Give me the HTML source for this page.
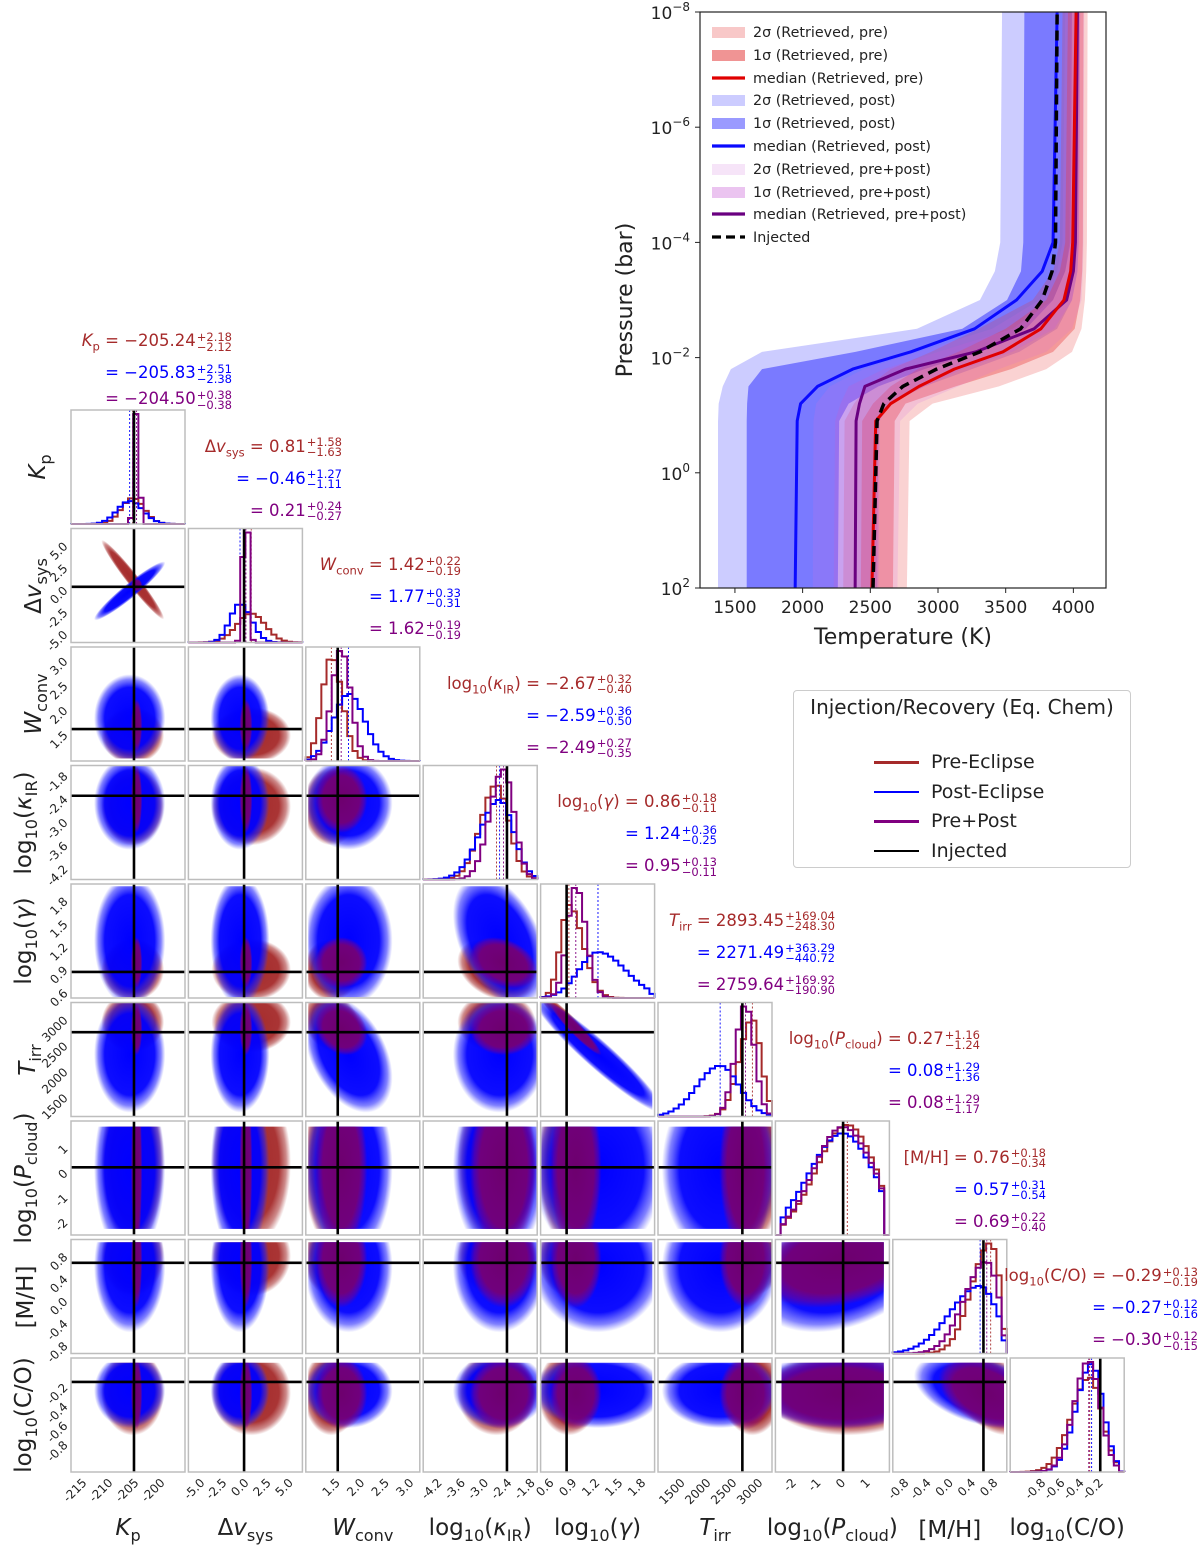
<!DOCTYPE html>
<html><head><meta charset="utf-8">
<style>
body{margin:0;background:#fff}
#root{position:relative;width:1200px;height:1553px;overflow:hidden;font-family:"DejaVu Sans","Liberation Sans",sans-serif;color:#222}
.ann{position:absolute;white-space:nowrap;font-size:16.5px;line-height:24px}
.pm{display:inline-block;vertical-align:middle;font-size:11.5px;line-height:10px;text-align:left;margin-left:1px}
.pm span{display:block}
.axl{position:absolute;white-space:nowrap;transform:translate(-50%,-50%);font-size:23px}
.axl sub,.ann sub{font-size:0.7em}
.leg2{position:absolute;left:793px;top:690px;width:336px;height:176px;border:1px solid #ccc;border-radius:4px;background:#fff}
</style></head>
<body>
<div id="root">
<svg id="svg" width="1200" height="1553" style="position:absolute;left:0;top:0" xmlns="http://www.w3.org/2000/svg">
<defs>
<radialGradient id="gPre"><stop offset="0" stop-color="#a52a2a" stop-opacity="1"/><stop offset="0.7" stop-color="#a52a2a" stop-opacity="0.95"/><stop offset="0.88" stop-color="#a52a2a" stop-opacity="0.55"/><stop offset="1" stop-color="#a52a2a" stop-opacity="0"/></radialGradient>
<radialGradient id="gPost"><stop offset="0" stop-color="#0000ff" stop-opacity="1"/><stop offset="0.7" stop-color="#0000ff" stop-opacity="0.95"/><stop offset="0.88" stop-color="#1a1aff" stop-opacity="0.55"/><stop offset="1" stop-color="#3333ff" stop-opacity="0"/></radialGradient>
<radialGradient id="gBoth"><stop offset="0" stop-color="#6e006e" stop-opacity="1"/><stop offset="0.7" stop-color="#760076" stop-opacity="0.95"/><stop offset="0.88" stop-color="#800080" stop-opacity="0.5"/><stop offset="1" stop-color="#800080" stop-opacity="0"/></radialGradient>
</defs>
</svg>
</div>
<script>
// ---------- Corner plot data ----------
const paramNames=['kp','dvsys','wconv','log-kappa-ir','log-gamma','t-irr','log-p-cloud','metallicity','log-c-o'];
const axisLabels=['<i>K</i><sub>p</sub>','Δ<i>v</i><sub>sys</sub>','<i>W</i><sub>conv</sub>','log<sub>10</sub>(<i>κ</i><sub>IR</sub>)','log<sub>10</sub>(<i>γ</i>)','<i>T</i><sub>irr</sub>','log<sub>10</sub>(<i>P</i><sub>cloud</sub>)','[M/H]','log<sub>10</sub>(C/O)'];
const rangeLo=[-217.1,-6.3,0.9,-4.56,0.49,1072,-2.65,-1.0,-1.12];
const rangeHi=[-195.2,6.6,3.22,-1.62,1.98,3272,1.98,1.05,0.07];
const boundLo=[-1e9,-1e9,0.95,-1e9,0.5,-1e9,-2.4,-1e9,-1.1];
const boundHi=[1e9,1e9,1e9,1e9,1.95,3300,1.75,1.0,0.02];
const injected=[-205,0,1.55,-2.4,0.83,2700,0.1,0.63,-0.18];
const medPre=[-205.24,0.81,1.42,-2.67,0.86,2893.45,0.27,0.76,-0.29];
const upPre=[2.18,1.58,0.22,0.32,0.18,169.04,1.16,0.18,0.13];
const dnPre=[2.12,1.63,0.19,0.40,0.11,248.30,1.24,0.34,0.19];
const medPost=[-205.83,-0.46,1.77,-2.59,1.24,2271.49,0.08,0.57,-0.27];
const upPost=[2.51,1.27,0.33,0.36,0.36,363.29,1.29,0.31,0.12];
const dnPost=[2.38,1.11,0.31,0.50,0.25,440.72,1.36,0.54,0.16];
const medBoth=[-204.50,0.21,1.62,-2.49,0.95,2759.64,0.08,0.69,-0.30];
const upBoth=[0.38,0.24,0.19,0.27,0.13,169.92,1.29,0.22,0.12];
const dnBoth=[0.38,0.27,0.19,0.35,0.11,190.90,1.17,0.40,0.15];
const corrI=[0,4,3,2,7,6];
const corrJ=[1,5,4,5,8,7];
const corrPre=[-0.97,-0.95,-0.3,-0.2,-0.4,0.3];
const corrPost=[0.95,-0.95,-0.4,-0.4,-0.4,0.3];
const corrBoth=[0.0,-0.95,-0.3,-0.2,-0.4,0.3];
const tickVals=[[-215,-210,-205,-200],[-5,-2.5,0,2.5,5],[1.5,2,2.5,3],[-4.2,-3.6,-3.0,-2.4,-1.8],[0.6,0.9,1.2,1.5,1.8],[1500,2000,2500,3000],[-2,-1,0,1],[-0.8,-0.4,0,0.4,0.8],[-0.8,-0.6,-0.4,-0.2]];
const tickText=[['-215','-210','-205','-200'],['-5.0','-2.5','0.0','2.5','5.0'],['1.5','2.0','2.5','3.0'],['-4.2','-3.6','-3.0','-2.4','-1.8'],['0.6','0.9','1.2','1.5','1.8'],['1500','2000','2500','3000'],['-2','-1','0','1'],['-0.8','-0.4','0.0','0.4','0.8'],['-0.8','-0.6','-0.4','-0.2']];

// ---------- T-P profile data ----------
const logPGrid=[2,-0.9,-1.2,-1.5,-1.8,-2.1,-2.5,-3.0,-3.5,-4.0,-8];
const tInjected=[2520,2550,2600,2740,2990,3310,3610,3770,3843,3868,3880];
const tMedPre=[2512,2540,2650,2860,3120,3480,3760,3930,3980,3995,4020];
const tMedPost=[1945,1960,1985,2110,2370,2800,3270,3580,3770,3850,3880];
const tMedBoth=[2388,2395,2420,2460,2760,3280,3710,3950,4000,4015,4030];
const tPost2Lo=[1375,1375,1380,1410,1470,1700,2845,3310,3420,3460,3473];
const tPost2Hi=[2550,2560,2650,2900,3250,3600,3880,3990,4030,4040,4050];
const tPost1Lo=[1587,1587,1590,1600,1700,2390,3180,3510,3613,3630,3638];
const tPost1Hi=[2260,2270,2340,2560,2900,3300,3650,3850,3940,3980,3990];
const tPre2Lo=[2300,2310,2380,2480,2650,2950,3300,3700,3850,3900,3920];
const tPre2Hi=[2770,2790,2960,3450,3800,3990,4060,4085,4095,4100,4105];
const tPre1Lo=[2430,2440,2520,2650,2850,3150,3500,3800,3900,3940,3960];
const tPre1Hi=[2667,2680,2760,3130,3540,3850,4010,4050,4065,4070,4075];
const tBoth2Lo=[2075,2080,2100,2200,2450,2850,3400,3750,3880,3920,3940];
const tBoth2Hi=[2700,2720,2850,3150,3450,3800,3990,4060,4070,4075,4080];
const tBoth1Lo=[2230,2240,2280,2340,2600,3000,3550,3850,3940,3970,3980];
const tBoth1Hi=[2560,2570,2640,2900,3180,3550,3860,3990,4030,4040,4050];
const tpXTicks=[1500,2000,2500,3000,3500,4000];
const tpYTicks=[-8,-6,-4,-2,0,2];
const tpYTickText=['−8','−6','−4','−2','0','2'];

const NS='http://www.w3.org/2000/svg';
const svg=document.getElementById('svg');
const root=document.getElementById('root');
function mk(tag,attrs,parent){const e=document.createElementNS(NS,tag);for(const k in attrs)e.setAttribute(k,attrs[k]);(parent||svg).appendChild(e);return e;}

const N=9, S=114;
function colX(i){return 71+i*117.4;}
function rowY(j){return 410+j*118.5;}
function px(k,v){return colX(k)+(v-rangeLo[k])/(rangeHi[k]-rangeLo[k])*S;}
function py(row,k,v){return rowY(row)+S-(v-rangeLo[k])/(rangeHi[k]-rangeLo[k])*S;}

const series=[
 {key:'pre',med:medPre,up:upPre,dn:dnPre,corr:corrPre,col:'#a52a2a',grad:'url(#gPre)'},
 {key:'post',med:medPost,up:upPost,dn:dnPost,corr:corrPost,col:'#0000ff',grad:'url(#gPost)'},
 {key:'both',med:medBoth,up:upBoth,dn:dnBoth,corr:corrBoth,col:'#800080',grad:'url(#gBoth)'}
];

function erf(x){const s=x<0?-1:1;x=Math.abs(x);const t=1/(1+0.3275911*x);const y=1-(((((1.061405429*t-1.453152027)*t)+1.421413741)*t-0.284496736)*t+0.254829592)*t*Math.exp(-x*x);return s*y;}
function Phi(z){return 0.5*(1+erf(z/Math.SQRT2));}
function splitCdf(x,m,u,d){const wd=2*d/(u+d),wu=2*u/(u+d);if(x<m)return wd*Phi((x-m)/d);return wd*0.5+wu*(Phi((x-m)/u)-0.5);}

// ---------- corner panels ----------
const cornerG=mk('g',{});


const defs=svg.querySelector('defs');

for(let r=0;r<N;r++){
 for(let c=0;c<=r;c++){
  const x0=colX(c),y0=rowY(r);
  const g=mk('g',{},cornerG);
  if(r===c){
   
   
   const nb=22, lo=rangeLo[c], hi=rangeHi[c], bw=(hi-lo)/nb;
   const dens=[];let mx=0;
   series.forEach(s=>{
     const m=s.med[c],u=s.up[c],d=s.dn[c];
     const bl=Math.max(boundLo[c],lo-1e6),bh=Math.min(boundHi[c],hi+1e6);
     const norm=splitCdf(bh,m,u,d)-splitCdf(bl,m,u,d);
     const arr=[];
     for(let b=0;b<nb;b++){
       let a=Math.max(lo+b*bw,boundLo[c]),e=Math.min(lo+(b+1)*bw,boundHi[c]);
       let v=e>a?(splitCdf(e,m,u,d)-splitCdf(a,m,u,d))/norm/bw:0;
       arr.push(v);mx=Math.max(mx,v);
     }
     dens.push(arr);
   });
   series.forEach((s,si)=>{
     let p='';
     for(let b=0;b<nb;b++){
       const xa=px(c,lo+b*bw),xb=px(c,lo+(b+1)*bw);
       const yv=y0+S-dens[si][b]/mx*(S-4);
       p+=(b===0?'M'+xa+','+(y0+S)+'L'+xa+','+yv:'L'+xa+','+yv)+'L'+xb+','+yv;
     }
     p+='L'+px(c,hi)+','+(y0+S);
     const h=mk('path',{d:p,fill:'none',stroke:s.col,'stroke-width':2},g);
     
     
     const ml=mk('line',{x1:px(c,s.med[c]),x2:px(c,s.med[c]),y1:y0,y2:y0+S,stroke:s.col,'stroke-width':0.9,'stroke-dasharray':'2,2'},g);
     
     
   });
   const il=mk('line',{x1:px(c,injected[c]),x2:px(c,injected[c]),y1:y0,y2:y0+S,stroke:'#000','stroke-width':2.6},g);
   
   
  } else {
   
   
   const cid='clip'+r+'_'+c;
   const cp=mk('clipPath',{id:cid},defs);
   const bx1=Math.max(x0,px(c,boundLo[c])),bx2=Math.min(x0+S,px(c,boundHi[c]));
   const by1=Math.max(y0,py(r,r,boundHi[r])),by2=Math.min(y0+S,py(r,r,boundLo[r]));
   mk('rect',{x:bx1,y:by1,width:bx2-bx1,height:by2-by1},cp);
   const cg=mk('g',{'clip-path':'url(#'+cid+')'},g);
   series.forEach(s=>{
     let rho=0;
     for(let q=0;q<corrI.length;q++){if(corrI[q]===c&&corrJ[q]===r)rho=s.corr[q];}
     const sx=(s.up[c]+s.dn[c])/2*S/(rangeHi[c]-rangeLo[c]);
     const sy=(s.up[r]+s.dn[r])/2*S/(rangeHi[r]-rangeLo[r]);
     const a=sx*sx,cc=sy*sy,b=-rho*sx*sy;
     const tr=(a+cc)/2,dd=Math.sqrt(((a-cc)/2)**2+b*b);
     const l1=tr+dd,l2=Math.max(tr-dd,0.5);
     const th=0.5*Math.atan2(2*b,a-cc)*180/Math.PI;
     const k=2.8;
     const cx=px(c,s.med[c]),cy=py(r,r,s.med[r]);
     const e=mk('ellipse',{cx:cx,cy:cy,rx:k*Math.sqrt(l1),ry:k*Math.sqrt(l2),fill:s.grad,transform:'rotate('+th+' '+cx+' '+cy+')'},cg);
     
     
   });
   const vl=mk('line',{x1:px(c,injected[c]),x2:px(c,injected[c]),y1:y0,y2:y0+S,stroke:'#000','stroke-width':2.6},g);
   
   
   const hl=mk('line',{x1:x0,x2:x0+S,y1:py(r,r,injected[r]),y2:py(r,r,injected[r]),stroke:'#000','stroke-width':2.6},g);
   
   
  }
  const fr=mk('rect',{x:x0,y:y0,width:S,height:S,fill:'none',stroke:'#bdbdbd','stroke-width':1.5},g);
  
  
 }
}
// bottom tick labels
for(let c=0;c<N;c++){
 tickVals[c].forEach((v,i)=>{
   const x=px(c,v)+3,y=rowY(8)+S+9;
   const t=mk('text',{x:x,y:y,'font-size':12,'text-anchor':'end',fill:'#222',transform:'rotate(-45 '+x+' '+y+')','dominant-baseline':'middle'},cornerG);
   t.textContent=tickText[c][i];
   
   
 });
}
// left tick labels
for(let r=1;r<N;r++){
 tickVals[r].forEach((v,i)=>{
   const x=colX(0)-5,y=py(r,r,v)+2;
   const t=mk('text',{x:x,y:y,'font-size':12,'text-anchor':'end',fill:'#222',transform:'rotate(-45 '+x+' '+y+')','dominant-baseline':'middle'},cornerG);
   t.textContent=tickText[r][i];
   
   
 });
}
// axis labels and annotations
function fmt(v){return v.toFixed(2).replace('-','−');}
const annRight=[232,342,461,632,717,835,980,1046,1198];
const leftTitleX=[40,36,36,26,26,30,26,26,26];
for(let k=0;k<N;k++){
 const bl=document.createElement('div');
 bl.className='axl';bl.innerHTML=axisLabels[k];
 bl.style.left=(colX(k)+S/2)+'px';bl.style.top='1530px';
 
 
 root.appendChild(bl);
 const ll=document.createElement('div');
 ll.className='axl';ll.innerHTML=axisLabels[k];
 ll.style.left=leftTitleX[k]+'px';ll.style.top=(rowY(k)+S/2)+'px';
 ll.style.transform='translate(-50%,-50%) rotate(-90deg)';
 
 
 root.appendChild(ll);
 const ys=k===0?[341,373,399]:[rowY(k)-82,rowY(k)-50,rowY(k)-18];
 series.forEach((s,si)=>{
   const d=document.createElement('div');
   d.className='ann';
   d.style.color=s.col;
   d.style.right=(1200-annRight[k])+'px';
   d.style.top=(ys[si]-12)+'px';
   d.innerHTML=(si===0?axisLabels[k]+' ':'')+'= '+fmt(s.med[k])+'<span class="pm"><span>+'+s.up[k].toFixed(2)+'</span><span>−'+s.dn[k].toFixed(2)+'</span></span>';
   
   
   root.appendChild(d);
 });
}

// ---------- T-P profile ----------
const AX0=700,AX1=1106,AY0=12,AY1=588,TLO=1242,THI=4241;
function xT(T){return AX0+(T-TLO)/(THI-TLO)*(AX1-AX0);}
function yP(lp){return AY0+(lp+8)/10*(AY1-AY0);}
const tp=mk('g',{});


const tpClip=mk('clipPath',{id:'tpclip'},defs);
mk('rect',{x:AX0,y:AY0,width:AX1-AX0,height:AY1-AY0},tpClip);
const tpc=mk('g',{'clip-path':'url(#tpclip)'},tp);
function band(lo,hi,fill,op,name){
 let p='';
 logPGrid.forEach((lp,i)=>{p+=(i?'L':'M')+xT(lo[i])+','+yP(lp);});
 for(let i=logPGrid.length-1;i>=0;i--)p+='L'+xT(hi[i])+','+yP(logPGrid[i]);
 const e=mk('path',{d:p+'Z',fill:fill,'fill-opacity':op,stroke:'none'},tpc);
 
 
}
function curve(arr,col,w,dash,name){
 let p='';
 logPGrid.forEach((lp,i)=>{p+=(i?'L':'M')+xT(arr[i])+','+yP(lp);});
 const e=mk('path',{d:p,fill:'none',stroke:col,'stroke-width':w,'stroke-linejoin':'round'},tpc);
 if(dash)e.setAttribute('stroke-dasharray',dash);
 
 
}
band(tPost2Lo,tPost2Hi,'#0000ff',0.2,'band-2sigma-post');
band(tPost1Lo,tPost1Hi,'#0000ff',0.4,'band-1sigma-post');
band(tPre2Lo,tPre2Hi,'#e83030',0.22,'band-2sigma-pre');
band(tPre1Lo,tPre1Hi,'#e83030',0.35,'band-1sigma-pre');
band(tBoth2Lo,tBoth2Hi,'#d070e0',0.18,'band-2sigma-both');
band(tBoth1Lo,tBoth1Hi,'#c060d8',0.28,'band-1sigma-both');
curve(tMedPost,'#0a0aff',3,null,'median-post');
curve(tMedBoth,'#6a0080',3,null,'median-both');
curve(tMedPre,'#e00000',3,null,'median-pre');
curve(tInjected,'#000',3.5,'10,6','injected-profile');
const tpf=mk('rect',{x:AX0,y:AY0,width:AX1-AX0,height:AY1-AY0,fill:'none',stroke:'#222','stroke-width':1.2},tp);


tpXTicks.forEach(T=>{
 mk('line',{x1:xT(T),x2:xT(T),y1:AY1,y2:AY1+5,stroke:'#222'},tp);
 const t=mk('text',{x:xT(T),y:AY1+25,'font-size':17,'text-anchor':'middle',fill:'#222'},tp);
 t.textContent=T;
 
 
});
tpYTicks.forEach((lp,i)=>{
 mk('line',{x1:AX0-5,x2:AX0,y1:yP(lp),y2:yP(lp),stroke:'#222'},tp);
 const t=mk('text',{x:AX0-10,y:yP(lp)+7,'font-size':17,'text-anchor':'end',fill:'#222'},tp);
 t.innerHTML='10<tspan dy="-8" font-size="12">'+tpYTickText[i]+'</tspan>';
 
 
});
const xt=mk('text',{x:(AX0+AX1)/2,y:644,'font-size':22,'text-anchor':'middle',fill:'#222'},tp);
xt.textContent='Temperature (K)';


const yt=mk('text',{x:632,y:300,'font-size':22,'text-anchor':'middle',fill:'#222',transform:'rotate(-90 632 300)'},tp);
yt.textContent='Pressure (bar)';



// TP legend
const legY=[32,55,78,100,123,146,169,192,214,237];
const legText=['2σ (Retrieved, pre)','1σ (Retrieved, pre)','median (Retrieved, pre)','2σ (Retrieved, post)','1σ (Retrieved, post)','median (Retrieved, post)','2σ (Retrieved, pre+post)','1σ (Retrieved, pre+post)','median (Retrieved, pre+post)','Injected'];
const legType=['p','p','l','p','p','l','p','p','l','d'];
const legCol=['#f8c8c8','#f09494','#e00000','#ccccff','#9a9aff','#0a0aff','#f6e4f8','#ebc4f0','#6a0080','#000'];
const lg=mk('g',{},tp);


legY.forEach((y,i)=>{
 const it=mk('g',{},lg);
 
 
 if(legType[i]==='p')mk('rect',{x:712,y:y-5,width:33,height:11,fill:legCol[i]},it);
 else mk('line',{x1:712,x2:745,y1:y,y2:y,stroke:legCol[i],'stroke-width':3.2,'stroke-dasharray':legType[i]==='d'?'9,5':'none'},it);
 const t=mk('text',{x:753,y:y+5,'font-size':14.3,fill:'#222'},it);
 t.textContent=legText[i];
});
</script>
<div class="leg2" style="font-family:'DejaVu Sans','Liberation Sans',sans-serif">
 <div style="position:absolute;left:0;width:336px;top:4px;text-align:center;font-size:20px;color:#222">Injection/Recovery (Eq. Chem)</div>
 <div style="position:absolute;left:80px;top:57px;font-size:19px;color:#222;line-height:29.5px">
  <div><span style="display:inline-block;width:45px;height:2.5px;background:#a52a2a;vertical-align:middle;margin-right:12px"></span>Pre-Eclipse</div>
  <div><span style="display:inline-block;width:45px;height:2.5px;background:#0000ff;vertical-align:middle;margin-right:12px"></span>Post-Eclipse</div>
  <div><span style="display:inline-block;width:45px;height:2.5px;background:#800080;vertical-align:middle;margin-right:12px"></span>Pre+Post</div>
  <div><span style="display:inline-block;width:45px;height:2.5px;background:#000;vertical-align:middle;margin-right:12px"></span>Injected</div>
 </div>
</div>
</body></html>
